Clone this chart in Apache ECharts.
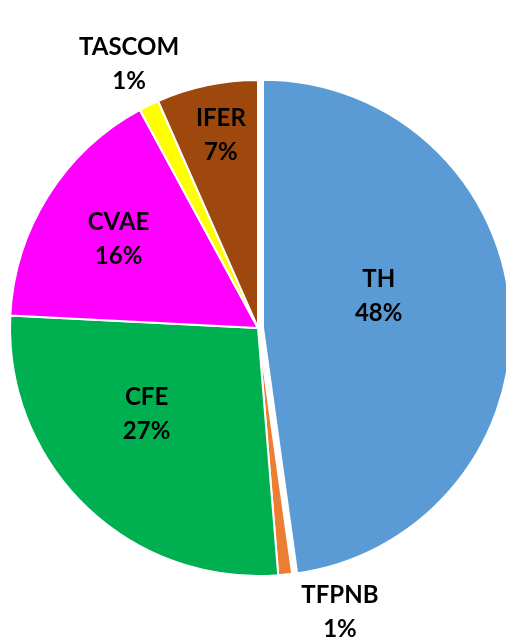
<!DOCTYPE html>
<html lang="en">
<head>
    <meta charset="UTF-8">
    <title>Pie</title>
    <script src="https://cdn.jsdelivr.net/npm/echarts@6/dist/echarts.min.js"></script>
    <style>
        html, body {margin:0;padding:0;background:#fff;}
        #main {width:506px;height:639px;}
    </style>
</head>
<body>
<div id="main"></div>
<script>
    var names=['TH','TFPNB','CFE','CVAE','TASCOM','IFER'];
    var values=[47.8,0.9,27.1,16.3,1.3,6.6];
    var colors=['#5B9BD5','#ED7D31','#00B050','#FF00FF','#FFFF00','#9E480E'];
    var shown=['48%','1%','27%','16%','1%','7%'];
    // label nudges from the default inside spot
    var nudge=[[-11,-23],[68,158],[-23,-5],[-32,-21],[-73,-150],[-11,-68]];

    var datas=[];
    for(var i=0;i<names.length;i++){
        datas.push({
            name:names[i],
            value:values[i],
            selected:i===0,
            itemStyle:{color:colors[i]}
        });
    }

    var myCharts=echarts.init(document.getElementById('main'));
    var option={
        animation:false,
        series:[{
            type:'pie',
            center:[258,328],
            radius:248,
            startAngle:90,
            clockwise:true,
            selectedMode:'single',
            selectedOffset:5,
            itemStyle:{borderColor:'#fff',borderWidth:2},
            emphasis:{disabled:true},
            label:{
                show:true,
                position:'inside',
                fontFamily:'Lato',
                fontWeight:'bold',
                fontSize:24,
                lineHeight:34,
                color:'#000',
                formatter:function (p) {
                    return p.name+'\n'+shown[p.dataIndex];
                }
            },
            labelLine:{show:false},
            labelLayout:function (p) {
                return {dx:nudge[p.dataIndex][0],dy:nudge[p.dataIndex][1]};
            },
            data:datas
        }]
    };
    myCharts.setOption(option);
</script>
</body>
</html>
